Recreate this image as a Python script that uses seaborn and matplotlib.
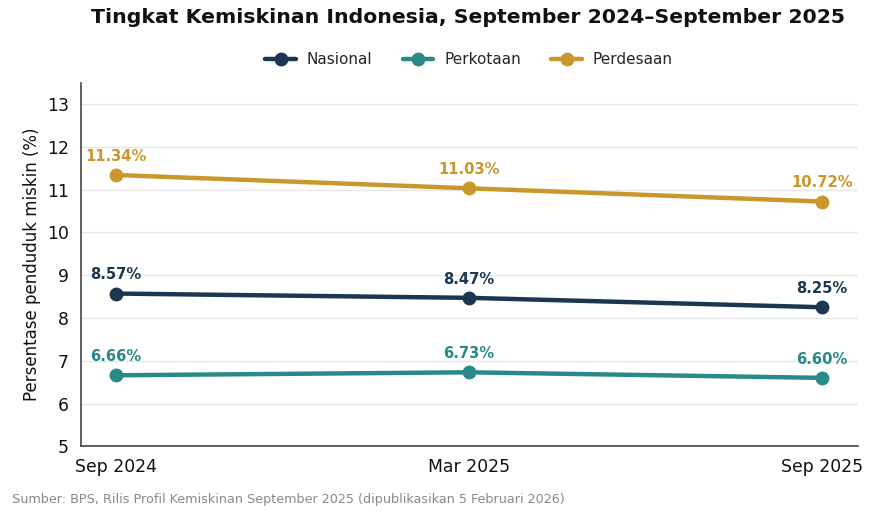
import matplotlib
matplotlib.use("Agg")
import matplotlib.pyplot as plt
import numpy as np
import pandas as pd
import seaborn as sns

periods = ["Sep 2024", "Mar 2025", "Sep 2025"]
nasional = [8.57, 8.47, 8.25]
perkotaan = [6.66, 6.73, 6.60]
perdesaan = [11.34, 11.03, 10.72]
series_names = ["Nasional", "Perkotaan", "Perdesaan"]
colors = ["#1d3752", "#2a8a87", "#c9972b"]

df = pd.DataFrame({
    "periode": periods * 3,
    "x": list(range(len(periods))) * 3,
    "nilai": nasional + perkotaan + perdesaan,
    "wilayah": np.repeat(series_names, len(periods)),
})

sns.set_style("white")
plt.rcParams["font.family"] = ["DejaVu Sans"]
plt.rcParams["font.sans-serif"] = ["DejaVu Sans"]

fig, ax = plt.subplots(figsize=(8.75, 5.16), dpi=100)
fig.subplots_adjust(left=0.092, right=0.98, top=0.84, bottom=0.135)

sns.lineplot(data=df, x="x", y="nilai", hue="wilayah", palette=colors,
             marker="o", markersize=10, markeredgewidth=0, linewidth=3.2,
             ax=ax, legend=True)

for name, col in zip(series_names, colors):
    sub = df[df["wilayah"] == name]
    for xv, yv in zip(sub["x"], sub["nilai"]):
        ax.annotate(f"{yv:.2f}%", (xv, yv), xytext=(0, 8),
                    textcoords="offset points", ha="center", va="bottom",
                    fontsize=10.6, fontweight="bold", color=col)

ax.set_xlim(-0.1, 2.1)
ax.set_ylim(5, 13.5)
ax.set_yticks(range(5, 14))
ax.set_xticks(range(len(periods)))
ax.set_xticklabels(periods)
ax.tick_params(axis="both", labelsize=12.4, length=5, color="#333333",
               labelcolor="#111111")
ax.set_xlabel("")
ax.set_ylabel("Persentase penduduk miskin (%)", fontsize=12, color="#111111")
ax.grid(axis="y", color="#e6e6e6", linewidth=1)
ax.set_axisbelow(True)
for side in ["top", "right"]:
    ax.spines[side].set_visible(False)
for side in ["left", "bottom"]:
    ax.spines[side].set_color("#444444")
    ax.spines[side].set_linewidth(1.2)

handles, labels = ax.get_legend_handles_labels()
ax.legend(handles, labels, loc="lower center", bbox_to_anchor=(0.5, 1.005),
          ncol=3, frameon=False, columnspacing=2.0, handlelength=2.0,
          handletextpad=0.7, prop={"family": "DejaVu Sans", "size": 11})

fig.suptitle("Tingkat Kemiskinan Indonesia, September 2024\u2013September 2025",
             fontsize=14.7, fontweight="bold", x=0.535, y=0.985,
             color="#111111")
fig.text(0.014, 0.025,
         "Sumber: BPS, Rilis Profil Kemiskinan September 2025 "
         "(dipublikasikan 5 Februari 2026)",
         fontsize=9.2, color="#888888")

fig.savefig("out.png", dpi=100)
